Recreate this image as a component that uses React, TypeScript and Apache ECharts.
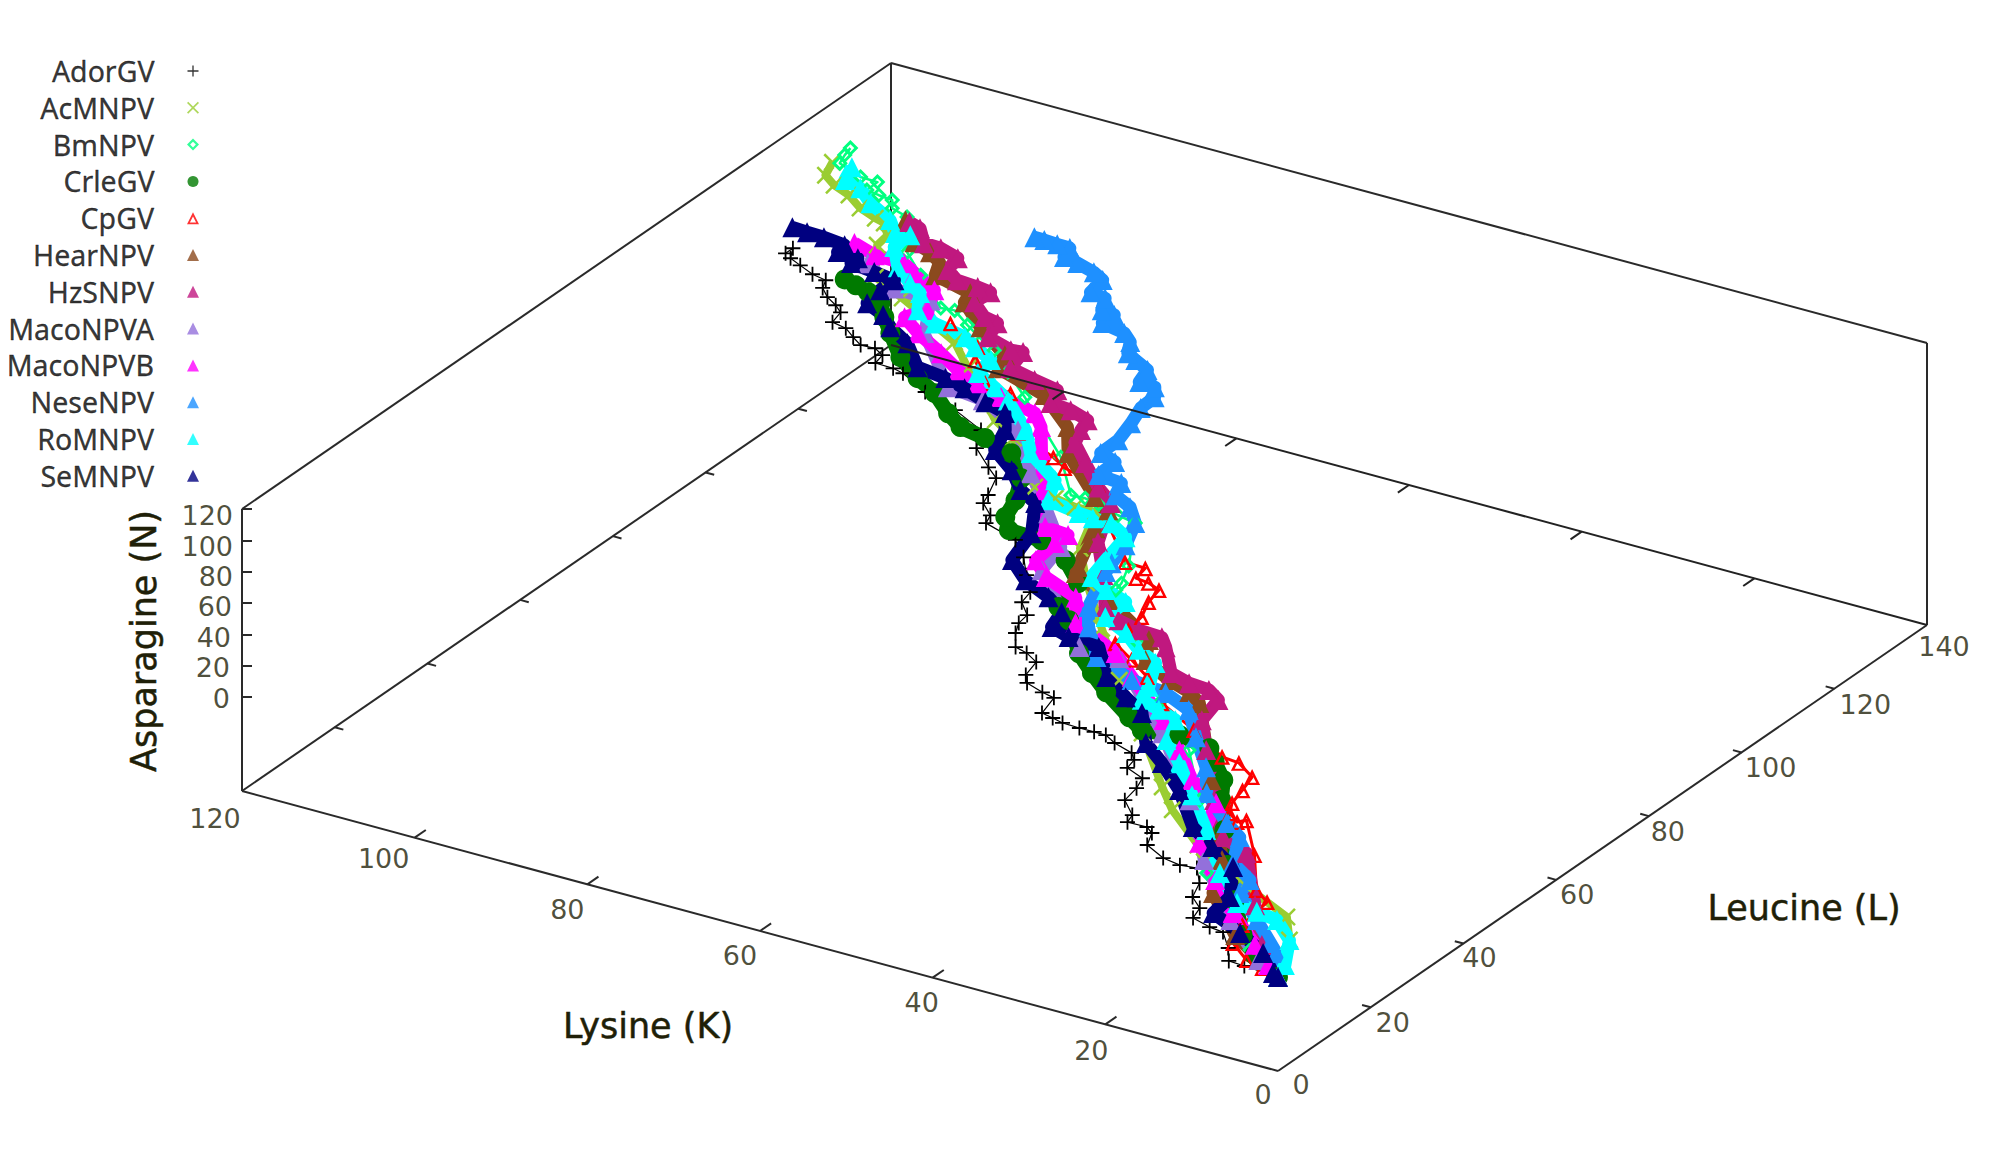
import * as React from "react";
import * as echarts from "echarts";
import { useEffect, useRef } from "react";

// cumulative residue counts: [lysine K, leucine L, asparagine N]
type Triple = [number, number, number];

const AdorGV: Triple[] = [[0,0,0],[3.9,0,1.2],[5.7,0,1.8],[7,2.3,3.4],[9,4.9,5.3],[10.6,5,5.9],[12.9,5.7,6.9],[13.3,7.9,8.1],[15,9.5,9.4],[15.8,12.5,11],[17.5,15.1,12.8],[19.2,14.6,13.1],[21.3,14.9,13.9],[23.9,16.3,15.5],[24.7,18.8,16.9],[25.7,19.6,17.6],[27.8,19.3,18.2],[28.1,20.9,19],[30.2,23.2,20.7],[30.4,26.1,22.2],[30.9,28.3,23.3],[33.2,29.3,24.5],[33.4,31.2,25.4],[34.3,32.3,26.3],[36.7,33.1,27.4],[38.2,34,28.4],[39.5,33.9,28.7],[41.1,33.7,29.2],[43,33.6,29.8],[44.3,33.9,30.4],[45.7,34.2,30.9],[46.2,37.7,32.7],[47.7,38,33.4],[49.9,38.8,34.5],[50.8,40.2,35.4],[51.2,43.2,36.9],[52.9,44.3,38],[54.4,44.7,38.7],[55.8,47.3,40.3],[56.5,49.3,41.5],[56.6,51.3,42.4],[58.3,53.3,44],[58.6,55.7,45.1],[60.6,58.6,47.1],[62.6,61.7,49.2],[65,64.4,51.2],[69.1,65.7,53.2],[69.5,67.4,54.1],[71.3,69.2,55.6],[71.7,71,56.5],[72.7,74.6,58.5],[74.4,76.1,59.8],[77.3,78.9,62],[78.7,82.5,64.1],[82.8,84.6,66.5],[87.1,86.1,68.6],[90.8,88.2,70.8],[92.1,88.5,71.4],[94.1,88.4,72],[94.3,90.3,72.9],[95.6,91.1,73.7],[97.1,90.8,74.1],[98.5,91.8,75],[100,93,76.1],[101.7,93.3,76.8],[102,95.6,77.9],[103.1,96.6,78.8],[104.6,97.6,79.7],[105.9,99,80.8],[106.4,100.6,81.7],[108.1,100.9,82.4],[110,101.8,83.4],[111.5,102.5,84.3],[112.3,104.5,85.4],[112.4,103.1,84.9]];
const AcMNPV: Triple[] = [[0,0,0],[2.7,7.5,4.3],[5.2,11.6,7],[11.9,14.9,10.8],[17.5,16.7,13.5],[19.7,19.4,15.5],[25.3,24.3,19.6],[28.4,27.9,22.3],[35.4,36.6,28.6],[42.5,44.9,34.8],[49.1,53.4,40.9],[54.8,60.8,46.2],[58.8,66.8,50.3],[61.1,74.4,54.5],[63.3,74.1,55.1],[65.8,74.5,56.1],[68.6,75.3,57.4],[75.2,83,63.2],[78.5,85.2,65.3],[85.9,93.1,71.4],[89.6,97.1,74.4],[98.3,102,79.6],[102.6,104.2,82],[105.6,110.2,85.8],[105.7,112.6,87],[107.2,114.7,88.4],[108.4,115,89],[110.7,116,90.1],[112.9,117.7,91.6],[115.1,118.6,92.8],[116.8,119.9,94],[117.5,122.7,95.5]];
const BmNPV: Triple[] = [[0,0,0],[5,3.3,3.2],[16.2,14.8,12.2],[24,27.8,20.7],[29.8,36.3,26.6],[37,43.9,32.5],[44.6,52.9,39.1],[51.7,61.3,45.4],[51.9,62.9,46.2],[53,66.5,48.2],[56.7,74.8,53.2],[58.9,75.2,54.1],[61.6,76,55.4],[63.3,76.3,56.1],[64.8,76,56.5],[69.4,82.4,60.9],[78.3,91.2,68],[82.2,94.8,70.9],[85.5,98,73.5],[87.5,99.1,74.7],[90.2,101,76.4],[92.7,102.9,78.2],[94.1,102.5,78.4],[99,107.3,82.3],[102.4,110.7,85],[105.2,115.6,88.1],[105.9,117.2,89.1],[108,117.9,90.1],[108.8,119.4,91.1],[110.4,119.5,91.6],[111.9,119.7,92.2],[111.8,121.8,93.2],[113.7,121.7,93.8],[116.8,123,95.4],[117.2,124.8,96.3],[117.4,126.4,97.2]];
const CrleGV: Triple[] = [[0,0,0],[4.1,2.6,2.6],[7.1,5.6,4.9],[11.2,11.5,9],[15.3,17.5,13.1],[19,23.8,17.2],[22.2,29.1,20.7],[24,32.9,23.1],[26.5,35.7,25.2],[28.3,37.9,26.8],[32.1,38.5,28.4],[35.7,37.1,28.9],[38,38.7,30.5],[42.4,41.9,33.4],[45.5,44.6,35.6],[48.5,47.4,38],[52.6,52.9,41.8],[54.8,54.7,43.4],[55.5,60.3,46.2],[58.8,63.7,48.9],[62.8,65.9,51.2],[66.5,65.8,52.4],[68.1,68,53.9],[68.9,71.7,55.9],[70.6,76.1,58.5],[73.9,80.1,61.4],[77.6,81.3,63.2],[80.7,81.8,64.5],[83.1,83.6,66.1],[86.2,86.5,68.4],[89.1,88.2,70.2],[92.6,91,72.7],[95.8,94.8,75.5],[97.9,97.4,77.4],[99.6,99.7,79],[101.7,101,80.3],[103.4,101.5,81.1],[104.9,101.9,81.8]];
const CpGV: Triple[] = [[0,0,0],[2.2,0.7,1.1],[4.3,1.2,2],[7.1,3.5,4],[8.1,7.4,6.1],[8.3,13.1,8.8],[10.4,14.7,10.2],[14,21,14.3],[18.1,26.9,18.4],[18.7,26,18.2],[20.2,27.2,19.2],[21,29.2,20.4],[21.4,32.2,21.9],[21.9,35.2,23.4],[24.4,37,25.1],[26.4,37.1,25.8],[31.4,40.3,28.9],[36.7,43.3,32.1],[40.5,47.2,35.2],[43.5,49.4,37.2],[46.5,51.5,39.1],[46.7,54.7,40.7],[46.9,57.9,42.2],[47.8,61.1,44],[48.1,63.9,45.4],[49.7,64.6,46.2],[51.2,64.7,46.8],[51.4,67.1,47.9],[53.7,67,48.6],[58.7,72.8,53],[63.5,79.5,57.7],[68,80.6,59.7],[70,81.9,60.9],[75.3,84.2,63.8],[79.9,91.1,68.4],[83,91.4,69.6],[86.1,95,72.3],[87.2,97.6,73.8],[91.8,100.3,76.6]];
const HearNPV: Triple[] = [[0,0,0],[7.7,5.1,4.9],[13.7,11.5,9.8],[16.2,18.1,13.7],[18.7,22.2,16.4],[25,32.2,23.1],[33.6,45.6,32.1],[35.5,47,33.4],[38.4,48,34.8],[42.3,50.2,37.2],[44,54.1,39.5],[51.3,59,44.2],[56.7,62,47.3],[57.1,63.2,48.1],[58.6,68.3,50.9],[59.5,71.4,52.6],[60.2,75.5,54.7],[62.6,77.1,56.3],[69.2,83.6,61.4],[71.8,88.3,64.5],[76.9,92.8,68.2],[83.4,94.9,71.4],[84.1,97.7,72.9],[88.9,101.4,76.2],[92.7,105,79.1],[93.1,107,80.2],[97.8,108.2,82.3],[98.7,110.8,83.8],[100.5,112.1,85],[102.8,113,86.1],[105.7,116.5,88.7]];
const HzSNPV: Triple[] = [[0,0,0],[4.5,4.9,3.8],[9,11.8,8.4],[14.9,20.9,14.5],[18.4,22.4,16.4],[22.8,28.7,20.7],[28.4,37.4,26.6],[31.7,42.6,30.1],[32.3,47.3,32.5],[34.1,48.6,33.6],[36.4,48.6,34.5],[38.9,49.4,35.6],[41.9,53.8,38.7],[43.2,55.4,39.8],[45.8,55.3,40.7],[48.5,55.9,41.8],[50.9,57.5,43.4],[54.2,63.3,47.1],[57.9,69,51],[60.7,77,55.6],[63.3,79.1,57.4],[66.8,82.8,60.2],[69.6,85.8,62.6],[70.4,88.6,64.1],[70.8,90.8,65.3],[73.2,91.6,66.5],[75.6,91.7,67.3],[76.3,94.5,68.8],[79.2,95,70],[82.4,95.7,71.4],[82.9,99.4,73.3],[84.1,99,73.5],[87.3,100,75],[87.9,103.2,76.6],[89.6,103.5,77.4],[91.9,105.6,79.1],[91.5,108.4,80.3],[93.1,108.6,80.9],[95.5,108.6,81.7],[97.3,109.9,82.9],[97.6,112.7,84.3],[100,113.5,85.4],[101.9,113.4,86],[103.7,115.9,87.8],[105.2,116.4,88.5]];
const MacoNPVA: Triple[] = [[0,0,0],[3.3,1.9,2],[9.6,7.6,6.7],[17.7,17,13.7],[24.8,27.1,20.7],[33.7,37.8,28.6],[44.7,49,37.4],[49.1,48.6,38.7],[59.8,60.4,47.7],[60.5,65.9,50.4],[64.9,71.3,54.4],[70.3,77.6,59.1],[75.6,84.7,64.1],[81.5,88.1,67.6],[85.7,88.4,69.1],[93,96.9,75.5],[95.7,103.3,79.3],[99.9,103.3,80.7],[104.6,106.3,83.7]];
const MacoNPVB: Triple[] = [[0,0,0],[2,1.6,1.4],[5.1,4.5,3.8],[10.1,9,7.5],[14.8,14,11.4],[19.8,19.9,15.7],[22.3,28.2,20.4],[26.6,31,23.1],[30.6,35.7,26.6],[34.9,40.3,30.1],[41.8,46.3,35.2],[45.5,49.7,38],[51.8,52.8,41.5],[54.3,57.5,44.5],[58.8,59.4,46.9],[61.3,61.9,48.9],[61.4,66.2,50.9],[61.1,68.5,51.8],[63.8,68.6,52.7],[67.6,75.2,57.1],[71.7,82.5,61.8],[74,86.7,64.5],[75.9,88.9,66.1],[80.3,89.8,68],[83.6,90.9,69.6],[86.5,92.1,71.1],[89.6,94.2,73.1],[93.5,96.5,75.5],[96.2,98.6,77.4],[95,101.3,78.2],[96.4,105.4,80.5],[99.7,107.3,82.5],[101.6,108.5,83.7],[104.8,108.2,84.6],[107.7,109.2,86]];
const NeseNPV: Triple[] = [[0,0,0],[2.5,4.3,2.8],[4,5.8,4],[7.4,9.2,6.7],[11.5,13.1,9.8],[11.9,16.1,11.4],[15,18.2,13.4],[17,23.4,16.4],[19.5,25.2,18],[24.1,29.5,21.6],[26.7,34.2,24.6],[30.5,39.1,28.1],[33.8,43.7,31.3],[37.4,45.4,33.3],[41.5,45.7,34.8],[46.7,47.8,37.5],[50.3,52.8,41],[52.3,56.5,43.4],[54.3,64,47.5],[54.7,66,48.5],[55.3,70.1,50.6],[56.7,74.8,53.2],[58.7,77.4,55.1],[61.1,78.7,56.5],[61.8,81.3,57.9],[64.5,81.4,58.8],[64.4,84.8,60.4],[66.5,85.6,61.4],[66.3,89,62.9],[66.9,92.9,64.9],[67.6,96.3,66.7],[67.5,99.1,68],[68.5,101,69.1],[70.3,101,69.7],[70.8,103.7,71.1],[72.8,104.8,72.3],[74.1,105.6,73.1],[75,107.8,74.4],[76.4,109.1,75.5],[79.2,109.6,76.6],[79,111.8,77.6],[80.5,111.9,78.2],[81.4,114.3,79.6],[83.2,114.5,80.3],[83.4,117.5,81.7],[84.9,118.4,82.6],[87.2,119.1,83.7],[88.9,119.4,84.4],[89.3,121.4,85.4],[90.7,121.3,85.9],[92.2,121.3,86.4],[93.3,121.2,86.7]];
const RoMNPV: Triple[] = [[0,0,0],[0.6,2.6,1.4],[2.7,7.5,4.3],[5.7,10.4,6.7],[8.2,10.7,7.6],[10.7,11.1,8.7],[15.1,15.6,12.2],[20.5,22.7,17.2],[25.1,28.2,21.3],[29.3,33.3,25.1],[32.7,36.8,27.8],[33.9,41,30.1],[36.3,41.9,31.3],[38.7,42.7,32.5],[39.4,45.5,34],[41.2,50.3,36.8],[43.9,51.7,38.3],[46.6,54,40.3],[49.9,55.7,42.2],[49.7,59.7,44],[52.5,60.7,45.4],[55,62.2,46.9],[55.5,66.2,48.9],[56.1,71.6,51.6],[58.7,73.3,53.2],[60.7,73.1,53.8],[62.4,73.2,54.4],[66.2,73.7,55.9],[67.6,77.8,58.2],[72.3,81.3,61.4],[75,85.2,64.1],[79.4,89.6,67.6],[81.8,91.2,69.1],[84.6,92.8,70.8],[84.8,96,72.3],[87.4,97.4,73.8],[89.2,98.6,75],[93.1,99.3,76.6],[95.8,100.7,78.2],[97.3,104,80.2],[99.1,105.2,81.3],[101.7,107.4,83.2],[104,110.9,85.6],[103.8,114,87],[105.3,113.5,87.2],[107,115.6,88.7],[110.3,117.5,90.7],[112.6,119.6,92.5],[114.7,120.2,93.4],[115.4,123,94.9]];
const SeMNPV: Triple[] = [[0,0,0],[0.8,0.4,0.5],[3.6,3.5,2.8],[7.5,5.8,5.2],[11.7,7.8,7.5],[11.9,11.8,9.4],[14.6,17.5,12.9],[18.3,19.9,15.2],[21.9,22.4,17.6],[26.7,28.4,21.9],[30.8,32.3,25.1],[34.1,35,27.4],[37.4,40.3,30.9],[40.3,42.2,32.8],[43.9,44.7,35.2],[47.5,49.8,38.7],[51,49.8,39.8],[53.4,50.6,41],[54,53.9,42.8],[56.6,55.9,44.5],[60.2,57.6,46.5],[63.3,60.5,48.9],[64.3,66.6,52],[67,72.4,55.6],[69.5,73.9,57.1],[72.2,77,59.4],[75.6,79.7,61.8],[76.7,84,64.1],[78.4,87.1,66.1],[81.1,87.9,67.4],[84.2,89.2,69],[86.8,89.9,70.2],[90.2,90.2,71.5],[93.4,94,74.3],[96.4,95.9,76.2],[98.2,97.7,77.6],[100.7,98.9,79],[100.9,102.1,80.5],[100.7,104.8,81.7],[103.2,105.1,82.6],[106,105.3,83.7],[105.9,106.6,84.3],[108.2,106.5,85],[108.3,108.2,85.8],[110.8,108.4,86.7],[112.7,108.3,87.3],[114.4,108.3,87.9]];

const kTicks = [0, 20, 40, 60, 80, 100, 120];
const lTicks = [0, 20, 40, 60, 80, 100, 120, 140];
const nTicks = [0, 20, 40, 60, 80, 100, 120];

const KMAX = 120;
const LMAX = 140;
const NMIN = -60;
const NMAX = 120;

// the box's corners on the page; the plot is an orthographic projection
const project = (k: number, l: number, n: number): [number, number] => [
  1278 + (k * (242 - 1278)) / KMAX + (l * (1927 - 1278)) / LMAX,
  1071 + (k * (791 - 1071)) / KMAX + (l * (625 - 1071)) / LMAX - ((n - NMIN) * 282) / (NMAX - NMIN),
];

const PLUS = "path://M4.4 0H5.6V4.4H10V5.6H5.6V10H4.4V5.6H0V4.4H4.4Z";
const CROSS = "path://M0 1L1 0L5 4L9 0L10 1L6 5L10 9L9 10L5 6L1 10L0 9L4 5Z";
const DIAMOND = "path://M5 0L10 5L5 10L0 5ZM5 2.6L2.6 5L5 7.4L7.4 5Z";
const HOLLOW_TRI = "path://M5 0L10 10H0ZM5 3.6L2.4 8.6H7.6Z";

const viruses = [
  { name: "AdorGV", data: AdorGV, color: "#000000", symbol: PLUS, size: 15, legend: 11, line: 1.2 },
  { name: "AcMNPV", data: AcMNPV, color: "#9acd32", symbol: CROSS, size: 18, legend: 12, line: 8 },
  { name: "BmNPV", data: BmNPV, color: "#00ff7f", symbol: DIAMOND, size: 16, legend: 12, line: 2.5 },
  { name: "CrleGV", data: CrleGV, color: "#007a00", symbol: "circle", size: 20, legend: 11, line: 15 },
  { name: "CpGV", data: CpGV, color: "#ff0000", symbol: HOLLOW_TRI, size: 16, legend: 12, line: 3 },
  { name: "HearNPV", data: HearNPV, color: "#8b4a1e", symbol: "triangle", size: 20, legend: 12, line: 13 },
  { name: "HzSNPV", data: HzSNPV, color: "#c0187f", symbol: "triangle", size: 20, legend: 12, line: 13 },
  { name: "MacoNPVA", data: MacoNPVA, color: "#9370db", symbol: "triangle", size: 20, legend: 12, line: 12 },
  { name: "MacoNPVB", data: MacoNPVB, color: "#ff00ff", symbol: "triangle", size: 20, legend: 12, line: 13 },
  { name: "NeseNPV", data: NeseNPV, color: "#1e90ff", symbol: "triangle", size: 20, legend: 12, line: 13 },
  { name: "RoMNPV", data: RoMNPV, color: "#00ffff", symbol: "triangle", size: 20, legend: 12, line: 13 },
  { name: "SeMNPV", data: SeMNPV, color: "#000080", symbol: "triangle", size: 20, legend: 12, line: 13 },
];

const seg = (a: Triple, b: Triple) => ({ coords: [project(...a), project(...b)] });

const App = () => {
  const chartRef = useRef<HTMLDivElement>(null);

  useEffect(() => {
    if (!chartRef.current) return;
    const myChart = echarts.init(chartRef.current, undefined, { renderer: "svg" });

    const box = [
      seg([KMAX, 0, NMIN], [0, 0, NMIN]),
      seg([0, 0, NMIN], [0, LMAX, NMIN]),
      seg([KMAX, 0, NMIN], [KMAX, LMAX, NMIN]),
      seg([KMAX, 0, NMIN], [KMAX, 0, NMAX]),
      seg([KMAX, LMAX, NMIN], [KMAX, LMAX, NMAX]),
      seg([0, LMAX, NMIN], [0, LMAX, NMAX]),
      seg([KMAX, 0, NMAX], [KMAX, LMAX, NMAX]),
      seg([KMAX, LMAX, NMAX], [0, LMAX, NMAX]),
    ];
    const innerK = kTicks.slice(1, -1);
    const innerL = lTicks.slice(1, -1);
    const frontTicks = [
      ...innerK.map((k) => seg([k, 0, NMIN], [k, 2.4, NMIN])),
      ...innerL.map((l) => seg([0, l, NMIN], [1, l, NMIN])),
      ...innerL.map((l) => seg([KMAX, l, NMIN], [KMAX - 1, l, NMIN])),
      ...nTicks.map((n) => seg([KMAX, 0, n], [KMAX - 0.83, 0.61, n])),
    ];
    const backEdge = [
      seg([KMAX, LMAX, NMIN], [0, LMAX, NMIN]),
      ...innerK.map((k) => seg([k, LMAX, NMIN], [k, LMAX - 2.4, NMIN])),
    ];

    const kNudge = [[-15, 23], [-14, 26], [-11, 25], [-20, 24], [-20, 25], [-31, 21], [-27, 27]];
    const lNudge = [[23, 13], [22, 15], [16, 14], [21, 15], [19, 15], [29, 15], [31, 16], [17, 21]];
    const nNudge = [[-3, 1], [-3, 2], [-2, 3], [-1, 3], [0, 5], [0, 6], [0, 6]];
    const tickFont = { fontFamily: "DejaVu Sans", fontSize: 27, color: "#1f1f08" };
    const titleStyle = {
      font: '35px "DejaVu Sans"',
      fill: "#1f1f08",
      stroke: "#1f1f08",
      lineWidth: 0.5,
      textAlign: "center",
      textVerticalAlign: "middle",
    };
    const centred = (pos: [number, number], text: number, nudge: number[]) => ({
      value: pos,
      label: { show: true, position: "inside", formatter: String(text), offset: nudge, ...tickFont },
    });

    const option = {
      animation: false,
      backgroundColor: "#ffffff",
      grid: { left: 0, right: 0, top: 0, bottom: 0 },
      xAxis: { type: "value", min: 0, max: 2002, show: false },
      yAxis: { type: "value", min: 0, max: 1158, inverse: true, show: false },
      graphic: [
        { type: "text", x: 648, y: 1026, style: { text: "Lysine (K)", ...titleStyle } },
        { type: "text", x: 1804, y: 908, style: { text: "Leucine (L)", ...titleStyle } },
        { type: "text", x: 144, y: 641, rotation: Math.PI / 2, style: { text: "Asparagine (N)", ...titleStyle } },
      ],
      series: [
        {
          type: "lines",
          coordinateSystem: "cartesian2d",
          silent: true,
          z: 1,
          lineStyle: { color: "#2a2a2a", width: 2, opacity: 1 },
          data: [...box, ...frontTicks],
        },
        ...viruses.map((v) => ({
          name: v.name,
          type: "line",
          z: 2,
          symbol: v.symbol,
          symbolSize: v.size,
          showSymbol: true,
          showAllSymbol: true,
          clip: false,
          itemStyle: { color: v.color, borderWidth: 0 },
          lineStyle: { color: v.color, width: v.line, join: "round", opacity: 1 },
          data: v.data.map((p) => project(...p)),
        })),
        {
          type: "lines",
          coordinateSystem: "cartesian2d",
          silent: true,
          z: 5,
          lineStyle: { color: "#222222", width: 2, opacity: 1 },
          data: backEdge,
        },
        {
          type: "scatter",
          silent: true,
          z: 6,
          symbolSize: 0,
          data: [
            ...kTicks.map((k, i) => centred(project(k, 0, NMIN), k, kNudge[i])),
            ...lTicks.map((l, i) => centred(project(0, l, NMIN), l, lNudge[i])),
            ...nTicks.map((n, i) => ({
              value: project(KMAX, 0, n),
              label: { show: true, position: "left", distance: 9, formatter: String(n), offset: nNudge[i], ...tickFont },
            })),
          ],
        },
        {
          // key: names right aligned, markers in a column on their right
          type: "scatter",
          silent: true,
          z: 6,
          data: viruses.map((v, i) => ({
            value: [193, 71 + i * 36.8],
            symbol: v.symbol,
            symbolSize: v.legend,
            itemStyle: { color: v.color },
            label: {
              show: true,
              position: "left",
              distance: 33,
              formatter: v.name,
              fontFamily: "Noto Sans",
              fontSize: 28.5,
              color: "#000000",
              textBorderColor: "#000000",
              textBorderWidth: 0.3,
            },
          })),
        },
      ],
    };

    myChart.setOption(option as any, true, true);
    return () => {
      myChart.dispose();
    };
  }, []);

  return (
    <div
      ref={chartRef}
      style={{ position: "fixed", left: 0, top: 0, width: 2002, height: 1158, background: "#fff" }}
    />
  );
};

export default App;
